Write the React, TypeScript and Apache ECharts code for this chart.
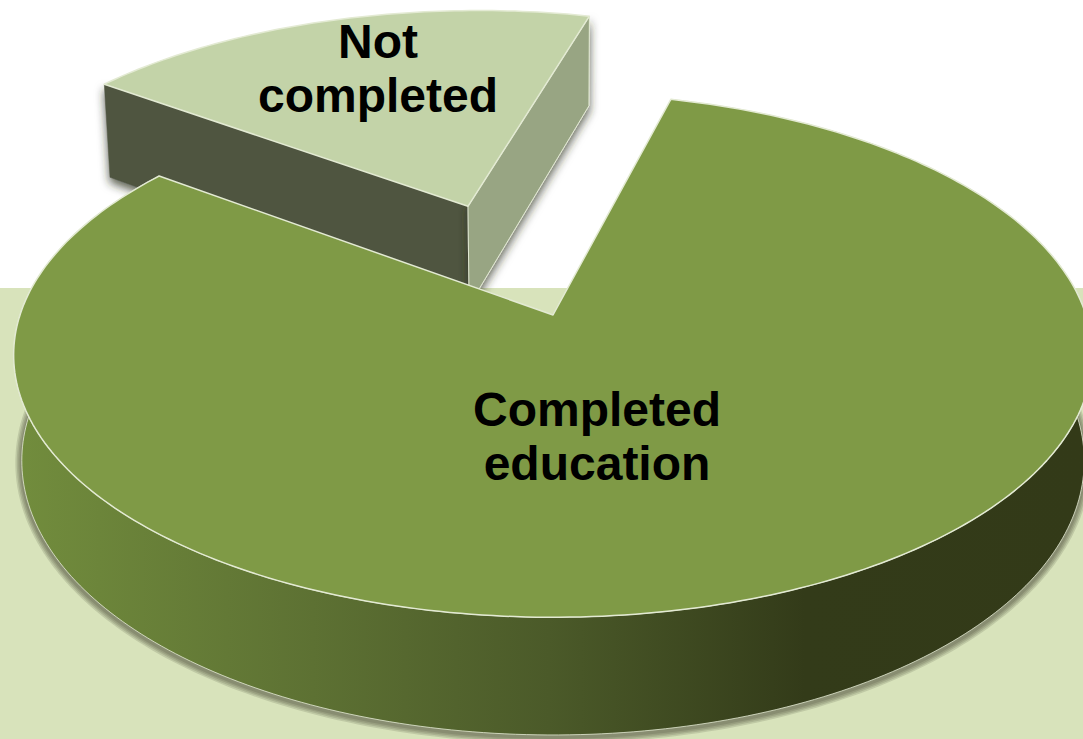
import React, { useEffect, useRef } from "react";
import * as echarts from "echarts";

const categories = ["Not\ncompleted", "Completed\neducation"];
const values = [19, 81];
const START_ANGLE = 306.3;
const EXPLODED = [0.485, 0];
const EXPLODE_TILT = -1.1;
const LABEL_CENTERS = [[378, 68], [597, 436]];
const TOP_COLORS = ["#c3d3a8", "#7f9a46"];
const LEFT_WALL = "#4f5441";
const RIGHT_WALL = "#98a583";
const EDGE = "#e3ead3";
const BACKDROP = "#d8e3bb";
const SHADOW_WIDTHS = [13, 10, 7, 4];

// Projection of the pie's ground plane with a little perspective
const CX = 553, CY = 315, RX = 533, RY = 256, P = 0.153, Q = 0.015, DEPTH = 106;

const project = (gx: number, gy: number, z: number): number[] => {
  const w = 1 - P * gy + Q * z;
  return [CX + (RX * gx) / w, CY + (RY * gy + DEPTH * z) / w];
};
const ground = (deg: number, r: number, off: number[]): number[] => {
  const a = (deg * Math.PI) / 180;
  return [off[0] + r * Math.sin(a), off[1] - r * Math.cos(a)];
};

export default function App() {
  const ref = useRef<HTMLDivElement>(null);
  useEffect(() => {
    const chart = echarts.init(ref.current!, null, { renderer: "svg" });
    const total = values.reduce((a, b) => a + b, 0);
    const starts: number[] = [];
    values.reduce((acc, v) => {
      starts.push(acc);
      return acc + (v / total) * 360;
    }, START_ANGLE);

    const wallGradient = new echarts.graphic.LinearGradient(
      14, 0, 1083, 0,
      [
        { offset: 0, color: "#728d3d" },
        { offset: 0.28, color: "#5d7133" },
        { offset: 0.5, color: "#4b5a29" },
        { offset: 0.74, color: "#333b19" },
        { offset: 1, color: "#333a18" },
      ],
      true
    );

    const renderItem = (params: any, api: any) => {
      const i = params.dataIndex;
      const sweep = (api.value(0) / total) * 360;
      const from = starts[i];
      const to = from + sweep;
      const midAngle = (((from + to) / 2 + EXPLODE_TILT) * Math.PI) / 180;
      const off = [EXPLODED[i] * Math.sin(midAngle), -EXPLODED[i] * Math.cos(midAngle)];

      const topArc: number[][] = [];
      const bottomArc: number[][] = [];
      const n = Math.ceil(sweep);
      for (let k = 0; k <= n; k++) {
        const g = ground(from + (sweep * k) / n, 1, off);
        topArc.push(project(g[0], g[1], 0));
        bottomArc.push(project(g[0], g[1], 1));
      }
      const apexTop = project(off[0], off[1], 0);
      const apexBottom = project(off[0], off[1], 1);
      const children: any[] = [];
      const shadow = {
        shadowBlur: 10,
        shadowColor: "rgba(40,45,30,0.75)",
        shadowOffsetX: 0,
        shadowOffsetY: 5,
      };

      if (EXPLODED[i] > 0) {
        // exploded slice: both cut faces are visible, the round side is hidden
        children.push({
          type: "polygon",
          shape: { points: [topArc[0], apexTop, apexBottom, bottomArc[0]] },
          style: { fill: LEFT_WALL, stroke: LEFT_WALL, lineWidth: 0.5, ...shadow },
        });
        children.push({
          type: "polygon",
          shape: { points: [topArc[n], apexTop, apexBottom, bottomArc[n]] },
          style: { fill: RIGHT_WALL, stroke: EDGE, lineWidth: 1, ...shadow },
        });
      } else {
        // stacked translucent strokes give the soft shadow round the drum
        SHADOW_WIDTHS.forEach((width) => {
          children.push({
            type: "polyline",
            y: 2,
            shape: { points: bottomArc },
            style: { fill: "none", stroke: "rgba(40,45,30,0.14)", lineWidth: width, lineJoin: "round" },
          });
        });
        children.push({
          type: "polygon",
          shape: { points: topArc.concat(bottomArc.slice().reverse()) },
          style: { fill: wallGradient, stroke: EDGE, lineWidth: 0.8 },
        });
      }
      children.push({
        type: "polygon",
        shape: { points: [apexTop].concat(topArc) },
        style: { fill: TOP_COLORS[i], stroke: EDGE, lineWidth: 1.5, lineJoin: "round" },
      });
      children.push({
        type: "text",
        style: {
          text: categories[i],
          x: LABEL_CENTERS[i][0],
          y: LABEL_CENTERS[i][1],
          align: "center",
          verticalAlign: "middle",
          fill: "#000000",
          font: 'bold 48px "Liberation Sans", Arial, sans-serif',
          lineHeight: 54,
        },
      });
      return { type: "group", children };
    };

    chart.setOption({
      animation: false,
      backgroundColor: "#ffffff",
      graphic: [
        {
          type: "rect",
          z: 0,
          shape: { x: 0, y: 288, width: 1083, height: 451 },
          style: { fill: BACKDROP },
        },
      ],
      series: [
        {
          type: "custom",
          coordinateSystem: "none",
          z: 2,
          clip: false,
          renderItem,
          data: values.map((v, i) => ({ name: categories[i], value: [v] })),
        },
      ],
    });
    return () => chart.dispose();
  }, []);
  return (
    <div
      ref={ref}
      style={{ position: "fixed", left: 0, top: 0, width: 1083, height: 739 }}
    />
  );
}
